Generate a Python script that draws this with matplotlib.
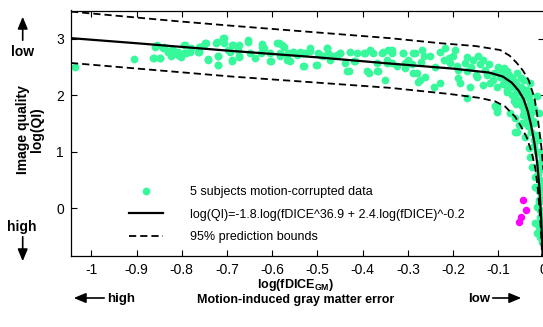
import matplotlib
matplotlib.use("Agg")
import matplotlib.pyplot as plt
from matplotlib.patches import FancyArrowPatch

plt.rcParams['font.family'] = ['Liberation Sans', 'DejaVu Sans']
plt.rcParams['mathtext.fontset'] = 'custom'
plt.rcParams['mathtext.rm'] = 'Liberation Sans'
plt.rcParams['mathtext.bf'] = 'Liberation Sans:bold'

# motion-corrupted data, 5 subjects (log(fDICE_GM), log(QI))
green_x = [-1.036, -0.905, -0.861, -0.848, -0.855, -0.840, -0.831, -0.823, -0.816, -0.809,
           -0.801, -0.794, -0.790, -0.779, -0.765, -0.761, -0.750, -0.746, -0.742, -0.724,
           -0.720, -0.720, -0.707, -0.706, -0.698, -0.823,
           -0.690, -0.673, -0.688, -0.673, -0.653, -0.623, -0.625, -0.605, -0.603, -0.586,
           -0.579, -0.583, -0.575, -0.564, -0.568, -0.553, -0.539, -0.529, -0.527, -0.516,
           -0.503, -0.498, -0.479, -0.476, -0.457, -0.450, -0.439, -0.434, -0.428, -0.417,
           -0.398, -0.391, -0.383, -0.369, -0.365, -0.358, -0.350, -0.346, -0.343, -0.472,
           -0.546, -0.619, -0.650, -0.487,
           -0.336, -0.336, -0.310, -0.306, -0.284, -0.288, -0.269, -0.265, -0.273, -0.262,
           -0.243, -0.229, -0.229, -0.218, -0.210, -0.206, -0.195, -0.192, -0.188, -0.184,
           -0.173, -0.169, -0.169, -0.162, -0.155, -0.147, -0.144, -0.133, -0.133, -0.125,
           -0.118, -0.111, -0.103, -0.103, -0.096, -0.088, -0.081, -0.077, -0.074, -0.066,
           -0.063, -0.059, -0.052, -0.044, -0.044, -0.037, -0.029, -0.026, -0.015, -0.011,
           -0.074, -0.063, -0.107, -0.103,
           -0.107, -0.103, -0.063, -0.059, -0.055, -0.040, -0.033, -0.029, -0.026, -0.018,
           -0.015, -0.011, -0.018, -0.007, -0.015, -0.018, -0.011, -0.007, -0.015, -0.007,
           -0.037, -0.048,
           -0.090, -0.080, -0.070, -0.060, -0.055, -0.050, -0.045, -0.040, -0.035, -0.030,
           -0.025, -0.020, -0.020, -0.015, -0.010, -0.008, -0.005, -0.004, -0.003, -0.060,
           -0.065, -0.045, -0.035, -0.028, -0.022, -0.012, -0.010, -0.005, -0.003, -0.004,
           -0.863, -0.848, -0.859, -0.841, -0.830, -0.819, -0.804, -0.808, -0.793, -0.796,
           -0.782, -0.763, -0.760, -0.748, -0.743, -0.723, -0.719, -0.719, -0.708, -0.693,
           -0.689, -0.686, -0.675, -0.673, -0.653, -0.638, -0.623, -0.605, -0.590, -0.583,
           -0.568, -0.560, -0.553, -0.535, -0.531, -0.516, -0.501, -0.494, -0.479, -0.465,
           -0.450, -0.431, -0.420, -0.413, -0.394, -0.387, -0.376, -0.369, -0.354, -0.346,
           -0.335, -0.324, -0.310, -0.306, -0.288, -0.280, -0.277,
           -0.300, -0.290, -0.270, -0.250, -0.240, -0.220, -0.200, -0.190, -0.170, -0.160,
           -0.150, -0.140, -0.130, -0.120, -0.110, -0.100, -0.095, -0.085, -0.080, -0.075,
           -0.070, -0.065, -0.058, -0.050, -0.048, -0.042, -0.038, -0.032, -0.030, -0.027,
           -0.024, -0.020, -0.017, -0.013, -0.010, -0.009, -0.006, -0.005, -0.004, -0.003]
green_y = [2.50, 2.64, 2.66, 2.66, 2.89, 2.85, 2.77, 2.80, 2.75, 2.72,
           2.67, 2.89, 2.75, 2.83, 2.77, 2.86, 2.89, 2.93, 2.64, 2.93,
           2.69, 2.54, 3.01, 2.93, 2.80, 2.69,
           2.89, 2.88, 2.63, 2.67, 2.97, 2.91, 2.75, 2.75, 2.60, 2.92,
           2.89, 2.69, 2.86, 2.75, 2.63, 2.77, 2.77, 2.51, 2.75, 2.79,
           2.54, 2.75, 2.83, 2.75, 2.72, 2.75, 2.57, 2.42, 2.77, 2.60,
           2.75, 2.42, 2.80, 2.57, 2.42, 2.75, 2.27, 2.63, 2.80, 2.63,
           2.72, 2.83, 2.75, 2.69,
           2.75, 2.57, 2.75, 2.48, 2.75, 2.39, 2.80, 2.69, 2.27, 2.33,
           2.15, 2.77, 2.21, 2.83, 2.66, 2.57, 2.80, 2.51, 2.30, 2.21,
           2.57, 2.42, 1.95, 2.15, 2.63, 2.33, 2.69, 2.63, 2.18, 2.36,
           2.21, 2.27, 2.15, 1.80, 2.33, 2.48, 2.09, 2.36, 2.24, 2.15,
           2.01, 2.39, 1.92, 2.27, 1.74, 2.09, 2.21, 1.86, 1.98, 1.68,
           1.68, 1.35, 1.80, 1.74,
           1.80, 1.71, 1.59, 1.35, 1.47, 1.26, 1.06, 0.91, 0.73, 0.55,
           0.37, 0.14, 0.37, -0.04, 0.02, -0.27, -0.33, -0.16, -0.45, -0.51,
           1.56, 1.50,
           2.20, 2.05, 2.30, 2.20, 2.05, 2.15, 1.95, 2.00, 1.80, 1.90,
           1.70, 1.50, 1.20, 1.00, 0.80, 0.50, 0.20, -0.10, -0.30, 1.85,
           1.90, 1.65, 1.45, 1.35, 1.10, 0.60, 0.30, 0.70, 0.40, -0.40,
           2.66, 2.66, 2.86, 2.83, 2.77, 2.80, 2.69, 2.77, 2.89, 2.75,
           2.77, 2.77, 2.86, 2.92, 2.63, 2.95, 2.69, 2.54, 3.01, 2.77,
           2.60, 2.89, 2.80, 2.69, 2.95, 2.66, 2.86, 2.60, 2.92, 2.75,
           2.72, 2.60, 2.77, 2.75, 2.51, 2.83, 2.54, 2.72, 2.83, 2.69,
           2.75, 2.42, 2.60, 2.75, 2.75, 2.39, 2.75, 2.42, 2.77, 2.57,
           2.80, 2.51, 2.75, 2.57, 2.75, 2.39, 2.24,
           2.62, 2.55, 2.58, 2.70, 2.50, 2.62, 2.70, 2.45, 2.68, 2.50,
           2.35, 2.55, 2.45, 2.55, 2.40, 2.50, 2.40, 2.30, 2.42, 2.15,
           2.00, 2.25, 2.10, 2.30, 1.80, 2.10, 1.70, 2.00, 1.60, 1.85,
           1.55, 1.75, 1.30, 1.20, 1.00, 0.10, -0.20, -0.45, -0.60, 0.90]

# separate points (magenta)
pink_x = [-0.046, -0.039, -0.049, -0.054]
pink_y = [0.14, -0.04, -0.16, -0.24]

# fitted curve and 95% prediction bounds
fit_x = [-1.045, -0.9, -0.7, -0.5, -0.34, -0.2, -0.12, -0.09, -0.07, -0.055, -0.044,
         -0.035, -0.027, -0.02, -0.014, -0.009, -0.005, -0.002]
fit_y = [3.01, 2.92, 2.79, 2.67, 2.56, 2.47, 2.40, 2.33, 2.22, 2.08, 1.93,
         1.72, 1.45, 1.15, 0.80, 0.35, -0.20, -0.85]
up_x = [-1.045, -0.81, -0.69, -0.34, -0.228, -0.15, -0.096, -0.075, -0.059, -0.045,
        -0.033, -0.02, -0.012, -0.005, 0.0]
up_y = [3.48, 3.31, 3.23, 3.01, 2.92, 2.87, 2.80, 2.70, 2.57, 2.43,
        2.27, 1.95, 1.55, 1.10, 0.67]
lo_x = [-1.045, -0.69, -0.34, -0.207, -0.14, -0.107, -0.085, -0.063, -0.05, -0.037,
        -0.026, -0.018, -0.013, -0.008, -0.005, -0.003]
lo_y = [2.57, 2.33, 2.13, 2.02, 1.95, 1.89, 1.80, 1.62, 1.45, 1.25,
        0.98, 0.70, 0.38, -0.10, -0.50, -0.85]

xticks = [-1, -0.9, -0.8, -0.7, -0.6, -0.5, -0.4, -0.3, -0.2, -0.1, 0]
xticklabels = ['-1', '-0.9', '-0.8', '-0.7', '-0.6', '-0.5', '-0.4', '-0.3', '-0.2', '-0.1', '0']
yticks = [0, 1, 2, 3]

fig = plt.figure(figsize=(5.43, 3.27), dpi=100)
ax = fig.add_axes([71 / 543, 1 - 256 / 327, 472.5 / 543, 245.5 / 327])

ax.plot(green_x, green_y, 'o', color='#38F89C', markersize=5.6, markeredgewidth=0,
        label='5 subjects motion-corrupted data', zorder=2)
ax.plot(pink_x, pink_y, 'o', color='#FF00FF', markersize=5.4, markeredgewidth=0, zorder=2)
ax.plot(fit_x, fit_y, '-', color='black', linewidth=1.6,
        label='log(QI)=-1.8.log(fDICE^36.9 + 2.4.log(fDICE)^-0.2', zorder=3)
ax.plot(up_x, up_y, '--', color='black', linewidth=1.3, dashes=(4, 2.2),
        label='95% prediction bounds', zorder=3)
ax.plot(lo_x, lo_y, '--', color='black', linewidth=1.3, dashes=(4, 2.2), zorder=3)

ax.set_xlim(-1.045, 0.0)
ax.set_ylim(-0.85, 3.5)
ax.set_xticks(xticks)
ax.set_xticklabels(xticklabels)
ax.set_yticks(yticks)
ax.tick_params(direction='in', length=4, width=0.8, top=True, right=True,
               labelsize=10, pad=5)
for s in ax.spines.values():
    s.set_linewidth(0.9)

leg = ax.legend(loc='upper left', bbox_to_anchor=(0.112, 0.306), frameon=False,
                fontsize=9.0, handlelength=2.7, handletextpad=2.2, labelspacing=0.85,
                borderaxespad=0, numpoints=1)

# axis labels
fig.text(30 / 543, 1 - 130 / 327, 'Image quality\nlog(QI)', rotation=90,
         ha='center', va='center', fontsize=10, fontweight='bold', linespacing=0.95)
fig.text(296 / 543, 1 - 285 / 327, r'log(fDICE$_{\mathbf{GM}}$)', ha='center', va='center',
         fontsize=9, fontweight='bold')
fig.text(296 / 543, 1 - 300 / 327, 'Motion-induced gray matter error', ha='center',
         va='center', fontsize=9, fontweight='bold')

# direction arrows
arr = dict(arrowstyle='-|>,head_length=0.6,head_width=0.25', color='black', lw=1.2)
fig.text(22 / 543, 1 - 52 / 327, 'low', ha='center', va='center', fontsize=10, fontweight='bold')
fig.text(22 / 543, 1 - 227 / 327, 'high', ha='center', va='center', fontsize=10, fontweight='bold')
fig.text(107 / 543, 1 - 299 / 327, 'high', ha='left', va='center', fontsize=9.5, fontweight='bold')
fig.text(490 / 543, 1 - 299 / 327, 'low', ha='right', va='center', fontsize=9.5, fontweight='bold')
for p0, p1 in [((22.7, 43), (22.7, 14)), ((22.7, 234), (22.7, 264)),
               ((107, 298), (71, 298)), ((490, 298), (524, 298))]:
    fig.add_artist(FancyArrowPatch((p0[0] / 543, 1 - p0[1] / 327), (p1[0] / 543, 1 - p1[1] / 327),
                                   transform=fig.transFigure, mutation_scale=12, **arr))

fig.savefig('out.png', dpi=100)
